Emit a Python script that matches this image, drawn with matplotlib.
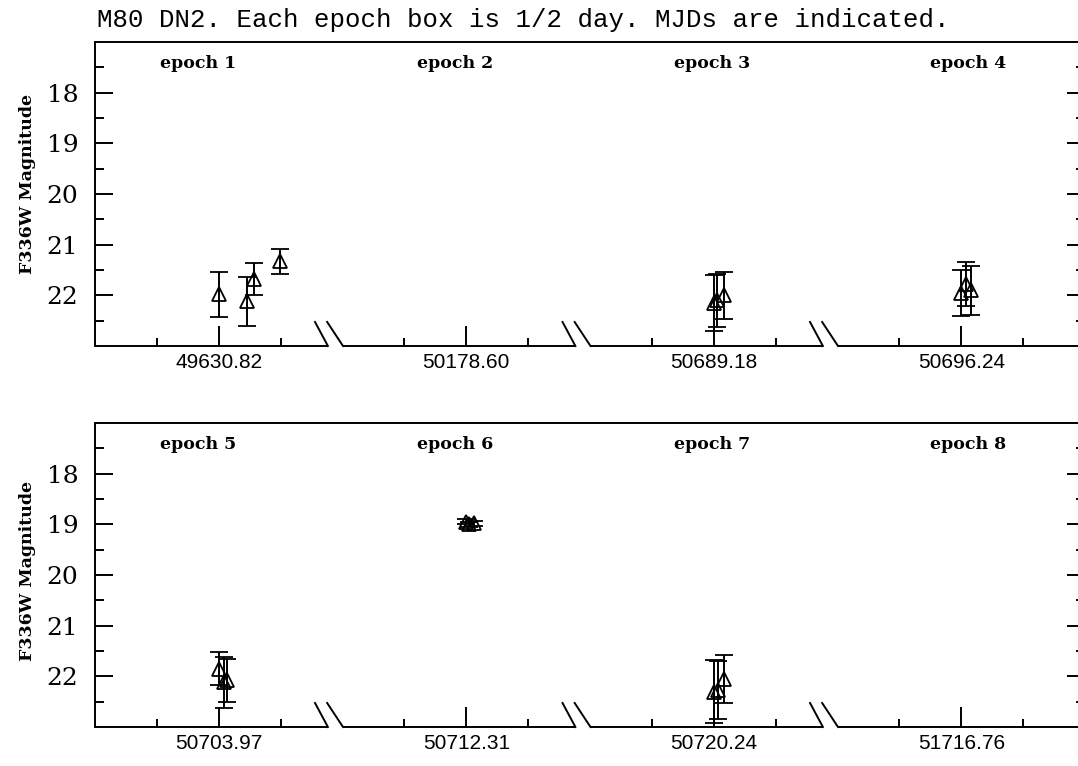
import matplotlib
matplotlib.use("Agg")
import matplotlib.pyplot as plt
import numpy as np

# MJD shown under each epoch box (box = 1/2 day, MJD at box centre)
mjd_top = ["49630.82", "50178.60", "50689.18", "50696.24"]
mjd_bot = ["50703.97", "50712.31", "50720.24", "51716.76"]
epoch_top = ["epoch 1", "epoch 2", "epoch 3", "epoch 4"]
epoch_bot = ["epoch 5", "epoch 6", "epoch 7", "epoch 8"]

# per epoch: time offset from the labelled MJD (days), magnitude, error
dt_e1 = [0.0, 0.058, 0.071, 0.124]
mag_e1 = [21.98, 22.12, 21.68, 21.33]
err_e1 = [0.44, 0.48, 0.32, 0.24]

dt_e3 = [0.0, 0.007, 0.02]
mag_e3 = [22.15, 22.1, 22.0]
err_e3 = [0.55, 0.52, 0.47]

dt_e4 = [0.0, 0.01, 0.02]
mag_e4 = [21.95, 21.78, 21.9]
err_e4 = [0.45, 0.43, 0.48]

dt_e5 = [0.0, 0.01, 0.016]
mag_e5 = [21.85, 22.12, 22.08]
err_e5 = [0.33, 0.5, 0.43]

dt_e6 = [0.0, 0.006, 0.016]
mag_e6 = [18.95, 19.0, 18.98]
err_e6 = [0.05, 0.05, 0.05]

dt_e7 = [0.0, 0.008, 0.02]
mag_e7 = [22.3, 22.27, 22.05]
err_e7 = [0.63, 0.58, 0.48]

top_data = {0: (dt_e1, mag_e1, err_e1), 2: (dt_e3, mag_e3, err_e3),
            3: (dt_e4, mag_e4, err_e4)}
bot_data = {0: (dt_e5, mag_e5, err_e5), 1: (dt_e6, mag_e6, err_e6),
            2: (dt_e7, mag_e7, err_e7)}

BOX_DAYS = 0.5
W, H = 1078, 766
fig = plt.figure(figsize=(W / 100, H / 100), dpi=100)

fig.text(97 / W, 1 - 27 / H,
         "M80 DN2. Each epoch box is 1/2 day. MJDs are indicated.",
         family="Liberation Mono", fontsize=18.5, va="baseline", ha="left")


def draw_panel(ax, mjds, epochs, data):
    lw = 1.4
    # x in box units: box i spans [i, i+1], centre = labelled MJD
    for i, (dt, mag, err) in data.items():
        x = i + 0.5 + np.array(dt) / BOX_DAYS
        ax.errorbar(x, mag, yerr=err, fmt="^", ms=10, mfc="none", mec="k",
                    mew=1.3, color="k", elinewidth=1.4, capsize=6.5,
                    capthick=1.4)
    ax.set_xlim(0, 4)
    ax.set_ylim(23, 17)
    ax.set_yticks([18, 19, 20, 21, 22])
    ax.set_yticks(np.arange(17.5, 23, 1.0), minor=True)
    centres = np.arange(4) + 0.5
    ax.set_xticks(centres)
    ax.set_xticklabels(mjds, family="Liberation Sans", fontsize=15)
    ax.set_xticks(np.concatenate([centres - 0.25, centres + 0.25]), minor=True)
    for lab in ax.get_yticklabels():
        lab.set_family("DejaVu Serif")
        lab.set_fontsize(18)
    ax.tick_params(axis="y", which="major", direction="in", length=13,
                   width=lw, left=True, right=True, pad=12)
    ax.tick_params(axis="y", which="minor", direction="in", length=6.5,
                   width=lw, left=True, right=True)
    ax.tick_params(axis="x", which="major", direction="in", length=14.5,
                   width=lw, pad=5)
    ax.tick_params(axis="x", which="minor", direction="in", length=5.5,
                   width=lw)
    for s in ["left", "right", "top"]:
        ax.spines[s].set_linewidth(lw)
    ax.spines["bottom"].set_visible(False)

    # bottom axis with break marks between boxes
    trans = ax.get_xaxis_transform()
    segs = [(0.0, 0.941), (1.002, 1.941), (2.002, 2.941), (3.002, 4.0)]
    for a, b in segs:
        ax.plot([a, b], [0, 0], color="k", lw=lw, transform=trans,
                clip_on=False, solid_capstyle="butt")
    for i in range(3):
        ax.plot([i + 0.889, i + 0.941], [0.079, 0], color="k", lw=lw,
                transform=trans, clip_on=False)
        ax.plot([i + 0.938, i + 1.002], [0.079, 0], color="k", lw=lw,
                transform=trans, clip_on=False)

    for i, name in enumerate(epochs):
        ax.text(0.066 + i * 0.2593, 0.914, name, transform=ax.transAxes,
                family="DejaVu Serif", fontweight="bold", fontsize=12.5,
                ha="left", va="baseline")


left = 95 / W
width = 990 / W
height = 304 / H
ax1 = fig.add_axes([left, 1 - 346 / H, width, height])
ax2 = fig.add_axes([left, 1 - 727 / H, width, height])
draw_panel(ax1, mjd_top, epoch_top, top_data)
draw_panel(ax2, mjd_bot, epoch_bot, bot_data)

fig.text(28 / W, 1 - 184 / H, "F336W Magnitude", rotation=90,
         family="DejaVu Serif", fontsize=12.5, fontweight="semibold",
         ha="center", va="center")
fig.text(28 / W, 1 - 571 / H, "F336W Magnitude", rotation=90,
         family="DejaVu Serif", fontsize=12.5, fontweight="semibold",
         ha="center", va="center")

fig.savefig("out.png", dpi=100)
